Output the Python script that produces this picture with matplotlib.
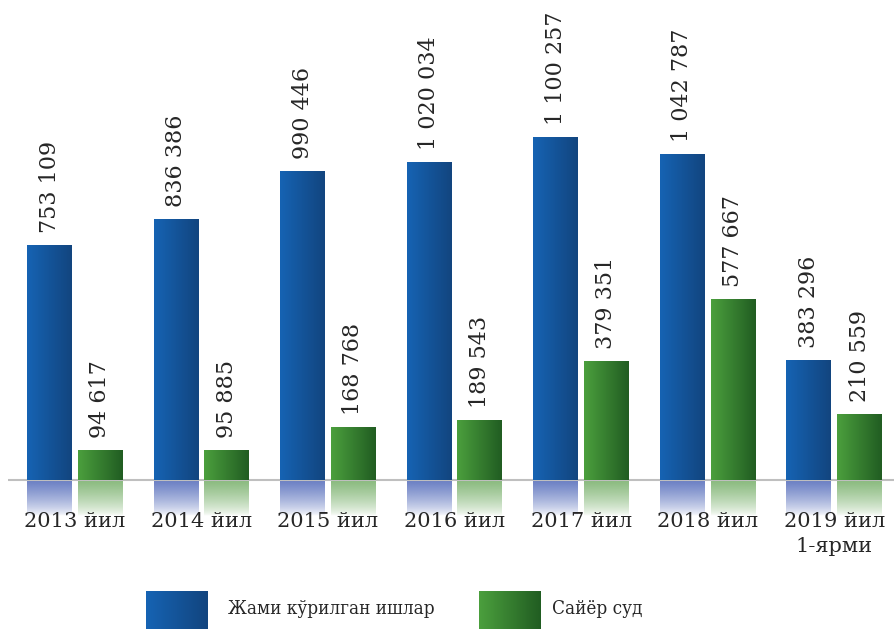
import numpy as np
import matplotlib.pyplot as plt
from matplotlib.colors import LinearSegmentedColormap, to_rgb

# data
years = ['2013 йил', '2014 йил', '2015 йил', '2016 йил', '2017 йил', '2018 йил', '2019 йил\n1-ярми']
total = [753109, 836386, 990446, 1020034, 1100257, 1042787, 383296]
mobile = [94617, 95885, 168768, 189543, 379351, 577667, 210559]
series_names = ['Жами кўрилган ишлар', 'Сайёр суд']

plt.rcParams['font.family'] = ['DejaVu Serif']
txt_color = '#262626'

blue_cm = LinearSegmentedColormap.from_list('b', ['#1663b3', '#12457f'])
green_cm = LinearSegmentedColormap.from_list('g', ['#4b9f3d', '#215d22'])
blue_refl = '#6177c0'
green_refl = '#82b676'

fig = plt.figure(figsize=(8.94, 6.29), dpi=100)
ax = fig.add_axes([8 / 894, 109 / 629, 886 / 894, 520 / 629])

px = 3208  # data units per pixel
ymax = 480 * px
ymin = -40 * px
w = 0.355
off = 0.2
shift = 0.028
hgrad = np.linspace(0, 1, 64).reshape(1, -1)


def refl_img(color):
    r, g, b = to_rgb(color)
    t = np.linspace(0, 1, 64)
    a = 0.95 * (1 - t) ** 0.7
    img = np.zeros((64, 1, 4))
    img[:, 0, 0] = r
    img[:, 0, 1] = g
    img[:, 0, 2] = b
    img[:, 0, 3] = a
    return img


def fmt(v):
    return f"{v:,}".replace(',', ' ')


for i in range(len(years)):
    c = i + shift
    for vals, cm, rc, dx in [(total, blue_cm, blue_refl, -off), (mobile, green_cm, green_refl, off)]:
        v = vals[i]
        x0 = c + dx - w / 2
        x1 = c + dx + w / 2
        ax.imshow(hgrad, cmap=cm, extent=(x0, x1, 0, v), aspect='auto', zorder=2)
        ax.imshow(refl_img(rc), extent=(x0, x1, -36 * px, 0), aspect='auto', zorder=1)
        ax.annotate(fmt(v), (c + dx, v), xytext=(0, 9), textcoords='offset points',
                    rotation=90, ha='center', va='bottom', fontsize=16, color=txt_color)
    ax.text(c, -32 * px, years[i], ha='center', va='top', fontsize=15,
            color=txt_color, linespacing=1.4, zorder=3)

ax.axhline(0, color='#bfbfbf', lw=1.5, zorder=1.5)
ax.set_xlim(-0.5, len(years) - 0.5)
ax.set_ylim(ymin, ymax)
ax.axis('off')

# legend
lax = fig.add_axes([0, 0, 1, 1], zorder=5)
lax.axis('off')
lax.imshow(hgrad, cmap=blue_cm, extent=(146, 208, 630, 591), aspect='auto')
lax.imshow(hgrad, cmap=green_cm, extent=(479, 541, 630, 591), aspect='auto')
lax.text(228, 609, series_names[0], ha='left', va='center', fontsize=13.5,
         fontstretch='condensed', color=txt_color)
lax.text(552, 609, series_names[1], ha='left', va='center', fontsize=13.5,
         fontstretch='condensed', color=txt_color)
lax.set_xlim(0, 894)
lax.set_ylim(629, 0)

fig.savefig('out.png', dpi=100)
